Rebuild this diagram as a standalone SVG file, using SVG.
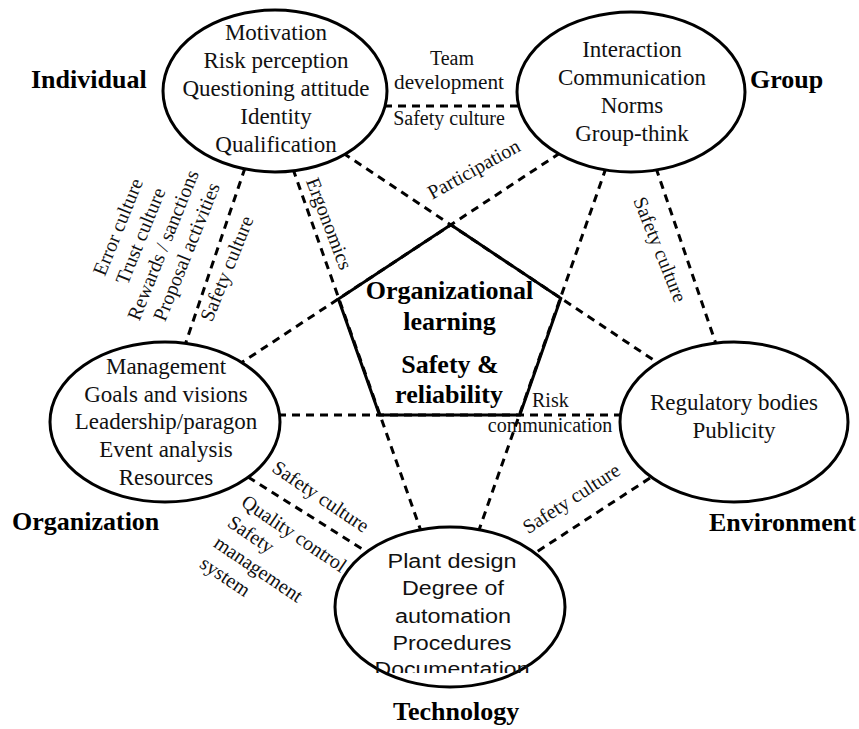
<svg xmlns="http://www.w3.org/2000/svg" width="859" height="729" viewBox="0 0 859 729">
  <style>
    .ell { fill: #fff; stroke: #000; stroke-width: 3; }
    .dash { fill: none; stroke: #000; stroke-width: 3; stroke-dasharray: 8 6; }
    .pent { fill: none; stroke: #000; stroke-width: 3; stroke-linejoin: miter; }
    .t { font-family: "Liberation Serif", "Times New Roman", serif; font-size: 23px; text-anchor: middle; fill: #111; }
    .s { font-family: "Liberation Sans", Arial, sans-serif; font-size: 20px; text-anchor: middle; fill: #111; }
    .lbl { font-family: "Liberation Serif", "Times New Roman", serif; font-size: 20px; fill: #111; }
    .mid { text-anchor: middle; }
    .h { font-family: "Liberation Serif", "Times New Roman", serif; font-weight: bold; font-size: 26px; fill: #000; }
  </style>
  <defs>
    <clipPath id="techClip">
      <rect x="300" y="520" width="300" height="153"/>
    </clipPath>
  </defs>

  <rect width="859" height="729" fill="#fff"/>

  <!-- connectors: dashed links between the five fields -->
  <g id="connectors">
    <line class="dash" x1="384" y1="106" x2="521" y2="106"/>
    <line class="dash" x1="245" y1="168" x2="185" y2="345"/>
    <line class="dash" x1="656" y1="168" x2="716" y2="344"/>
    <line class="dash" x1="248" y1="477" x2="367" y2="552"/>
    <line class="dash" x1="650" y1="478" x2="535" y2="553"/>
    <!-- star lines through the pentagon corners -->
    <line class="dash" x1="293" y1="169" x2="421" y2="531"/>
    <line class="dash" x1="606" y1="168" x2="479" y2="530"/>
    <line class="dash" x1="343" y1="153" x2="658" y2="363"/>
    <line class="dash" x1="560" y1="153" x2="241" y2="363"/>
    <line class="dash" x1="278" y1="415" x2="622" y2="415"/>

    <!-- connector labels -->
    <text class="lbl mid" x="452" y="65">Team</text>
    <text class="lbl mid" x="449" y="89" textLength="110" lengthAdjust="spacingAndGlyphs">development</text>
    <text class="lbl mid" x="449" y="125">Safety culture</text>
    <text class="lbl mid" transform="translate(477 175) rotate(-29)">Participation</text>
    <text class="lbl mid" transform="translate(125 227) rotate(-68)">
      <tspan x="0" dy="0">Error culture</tspan>
      <tspan x="0" dy="24.3">Trust culture</tspan>
      <tspan x="0" dy="24.3">Rewards / sanctions</tspan>
      <tspan x="0" dy="24.3">Proposal activities</tspan>
    </text>
    <text class="lbl mid" transform="translate(233 271) rotate(-68)">Safety culture</text>
    <text class="lbl mid" transform="translate(323 226) rotate(69)">Ergonomics</text>
    <text class="lbl mid" transform="translate(654 252) rotate(68)">Safety culture</text>
    <text class="lbl" x="532" y="407">Risk</text>
    <text class="lbl mid" x="550" y="432">communication</text>
    <text class="lbl mid" transform="translate(317 502) rotate(34)">Safety culture</text>
    <text class="lbl" transform="translate(240 505) rotate(34)">
      <tspan x="0" dy="0">Quality control</tspan>
      <tspan x="0" dy="24.7">Safety</tspan>
      <tspan x="0" dy="24.7">management</tspan>
      <tspan x="0" dy="24.7">system</tspan>
    </text>
    <text class="lbl mid" transform="translate(575 504) rotate(-33)">Safety culture</text>
  </g>

  <!-- central pentagon -->
  <g id="center">
    <polygon class="pent" points="450.8,224.8 560.8,298.3 519.8,415 379.5,415 338.4,299"/>
    <text class="h mid" x="449.5" y="299">Organizational</text>
    <text class="h mid" x="449.5" y="330">learning</text>
    <text class="h mid" x="450" y="373">Safety &amp;</text>
    <text class="h mid" x="449" y="403">reliability</text>
  </g>

  <g id="individual">
    <ellipse class="ell" cx="275" cy="91" rx="112" ry="81"/>
    <text class="t" x="276" y="40">Motivation</text>
    <text class="t" x="276" y="68">Risk perception</text>
    <text class="t" x="276" y="96">Questioning attitude</text>
    <text class="t" x="276" y="124">Identity</text>
    <text class="t" x="276" y="152">Qualification</text>
    <text class="h" x="31" y="88">Individual</text>
  </g>

  <g id="group">
    <ellipse class="ell" cx="631" cy="92" rx="114" ry="80"/>
    <text class="t" x="632" y="57">Interaction</text>
    <text class="t" x="632" y="85">Communication</text>
    <text class="t" x="632" y="113">Norms</text>
    <text class="t" x="632" y="141">Group-think</text>
    <text class="h" x="750" y="88">Group</text>
  </g>

  <g id="organization">
    <ellipse class="ell" cx="165" cy="422" rx="115" ry="80"/>
    <text class="t" x="166" y="374">Management</text>
    <text class="t" x="166" y="402">Goals and visions</text>
    <text class="t" x="166" y="429">Leadership/paragon</text>
    <text class="t" x="166" y="457">Event analysis</text>
    <text class="t" x="166" y="485">Resources</text>
    <text class="h" x="12" y="530">Organization</text>
  </g>

  <g id="environment">
    <ellipse class="ell" cx="734" cy="422" rx="114" ry="80"/>
    <text class="t" x="734" y="410">Regulatory bodies</text>
    <text class="t" x="734" y="438">Publicity</text>
    <text class="h" x="709" y="531">Environment</text>
  </g>

  <g id="technology">
    <ellipse class="ell" cx="450" cy="607" rx="115" ry="80"/>
    <text class="s" x="452" y="568" textLength="129" lengthAdjust="spacingAndGlyphs">Plant design</text>
    <text class="s" x="453" y="595" textLength="102" lengthAdjust="spacingAndGlyphs">Degree of</text>
    <text class="s" x="453" y="623" textLength="116" lengthAdjust="spacingAndGlyphs">automation</text>
    <text class="s" x="452" y="650" textLength="119" lengthAdjust="spacingAndGlyphs">Procedures</text>
    <text class="s" x="452" y="676" clip-path="url(#techClip)" textLength="155" lengthAdjust="spacingAndGlyphs">Documentation</text>
    <text class="h" x="393" y="720">Technology</text>
  </g>
</svg>
